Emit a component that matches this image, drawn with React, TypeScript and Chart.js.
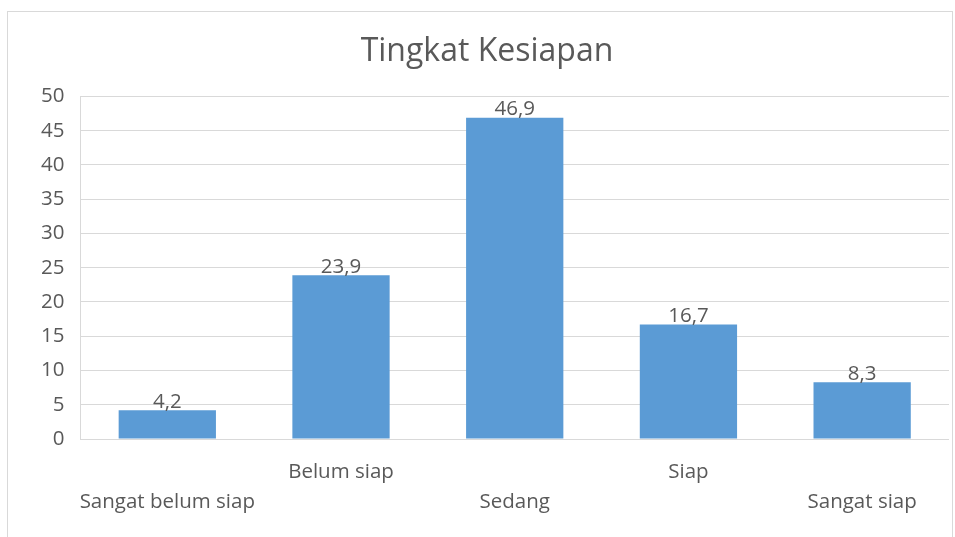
import React, { useEffect, useRef } from "react";
import { Chart, registerables } from "chart.js";

Chart.register(...registerables);

const title = "Tingkat Kesiapan";
const categories = ["Sangat belum siap", "Belum siap", "Sedang", "Siap", "Sangat siap"];
const values = [4.2, 23.9, 46.9, 16.7, 8.3];
const staggerLow = [true, false, true, false, true];
const yMin = 0;
const yMax = 50;
const yStep = 5;

const FONT = "'Open Sans', 'Noto Sans', sans-serif";
const TEXT = "#595959";
const GRID = "#d9d9d9";
const BAR = "#5b9bd5";

const borderPlugin = {
  id: "outerBorder",
  beforeDraw(chart: any) {
    const ctx = chart.ctx;
    ctx.save();
    ctx.fillStyle = "#ffffff";
    ctx.fillRect(0, 0, chart.width, chart.height);
    ctx.strokeStyle = GRID;
    ctx.lineWidth = 1;
    ctx.strokeRect(7.5, 11.5, 945, 540);
    ctx.restore();
  },
};

const labelPlugin = {
  id: "valueLabels",
  afterDatasetsDraw(chart: any) {
    const ctx = chart.ctx;
    const meta = chart.getDatasetMeta(0);
    ctx.save();
    ctx.font = `20.5px ${FONT}`;
    ctx.fillStyle = TEXT;
    ctx.textAlign = "center";
    ctx.textBaseline = "bottom";
    meta.data.forEach((el: any, i: number) => {
      const v = chart.data.datasets[0].data[i] as number;
      ctx.fillText(v.toFixed(1).replace(".", ","), el.x, el.y + 2);
    });
    ctx.restore();
  },
};

export default function App() {
  const ref = useRef<HTMLCanvasElement>(null);
  useEffect(() => {
    if (!ref.current) return;
    const labels = categories.map((c, i) => (staggerLow[i] ? ["", c] : [c, ""]));
    const chart = new Chart(ref.current, {
      type: "bar",
      data: {
        labels,
        datasets: [
          {
            data: values,
            backgroundColor: BAR,
            borderWidth: 0,
            categoryPercentage: 1,
            barPercentage: 0.56,
          },
        ],
      },
      options: {
        animation: false,
        responsive: false,
        maintainAspectRatio: false,
        layout: { padding: { left: 25, right: 6, top: 0, bottom: 2 } },
        plugins: {
          legend: { display: false },
          tooltip: { enabled: false },
          title: {
            display: true,
            text: title,
            color: TEXT,
            font: { family: FONT, size: 32, weight: "normal" },
            padding: { top: 33, bottom: 25 },
          },
        },
        scales: {
          x: {
            grid: { display: false, drawTicks: false },
            border: { display: false },
            ticks: {
              color: TEXT,
              font: { family: FONT, size: 20.5, lineHeight: "30px" },
              maxRotation: 0,
              autoSkip: false,
              padding: 18,
            },
          },
          y: {
            min: yMin,
            max: yMax,
            grid: { color: GRID, drawTicks: false },
            border: { display: true, color: GRID },
            ticks: {
              stepSize: yStep,
              color: TEXT,
              font: { family: FONT, size: 20.5 },
              padding: 16,
            },
          },
        },
      },
      plugins: [borderPlugin, labelPlugin],
    });
    return () => chart.destroy();
  }, []);
  return (
    <div style={{ position: "fixed", left: 0, top: 0, width: 955, height: 537, background: "#fff" }}>
      <canvas ref={ref} width={955} height={537} style={{ width: 955, height: 537 }} />
    </div>
  );
}
